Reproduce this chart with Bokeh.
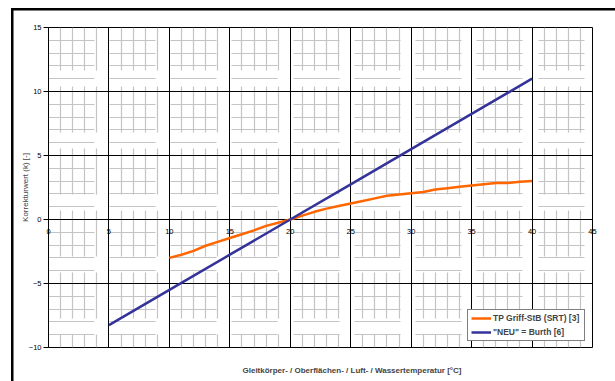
from bokeh.plotting import figure
from bokeh.models import Range1d, Legend, LegendItem, Title, FixedTicker
from bokeh.embed import file_html
from bokeh.resources import INLINE

# Correction value k over temperature for two methods
temp_srt = [10, 11, 12, 13, 14, 15, 16, 17, 18, 19, 20, 21, 22, 23, 24, 25,
            26, 27, 28, 29, 30, 31, 32, 33, 34, 35, 36, 37, 38, 39, 40]
k_srt = [-3.0, -2.75, -2.45, -2.05, -1.75, -1.45, -1.15, -0.85, -0.5, -0.25,
         0.0, 0.3, 0.6, 0.85, 1.05, 1.25, 1.45, 1.65, 1.85, 1.95, 2.05, 2.15,
         2.35, 2.45, 2.55, 2.65, 2.75, 2.85, 2.85, 2.95, 3.0]

temp_neu = [5, 10, 15, 20, 25, 30, 35, 40]
k_neu = [-8.25, -5.5, -2.75, 0.0, 2.75, 5.5, 8.25, 11.0]

x_ticks = [0, 5, 10, 15, 20, 25, 30, 35, 40, 45]
y_ticks = [-10, -5, 0, 5, 10, 15]
x_minor = [v for v in range(0, 46) if v % 5]
y_minor = [v for v in range(-10, 16) if v % 5]

series_names = ["TP Griff-StB (SRT) [3]", "\"NEU\" = Burth [6]"]
x_title = "Gleitkörper- / Oberflächen- / Luft- / Wassertemperatur [°C]"
y_title = "Korrekturwert (k) [-]"

FONT = "Liberation Sans"

p = figure(width=615, height=381, output_backend="svg", toolbar_location=None,
           x_range=Range1d(0, 45), y_range=Range1d(-10, 15),
           min_border_left=48, min_border_right=23, min_border_top=27,
           min_border_bottom=33, background_fill_color="white",
           border_fill_alpha=0)

# page frame along the left and top edges, drawn behind the transparent border
p.styles = {
    "background-color": "white",
    "background-image": "linear-gradient(#000, #000), linear-gradient(#000, #000)",
    "background-size": "2.5px 400px, 700px 2.5px",
    "background-position": "11px 8.3px, 11px 8.3px",
    "background-repeat": "no-repeat",
}

p.outline_line_color = "black"
p.outline_line_width = 1

# grid: solid major lines every 5, dashed light minor lines every 1
p.xaxis.ticker = FixedTicker(ticks=x_ticks, minor_ticks=x_minor)
p.yaxis.ticker = FixedTicker(ticks=y_ticks, minor_ticks=y_minor)
for g in (p.xgrid, p.ygrid):
    g.grid_line_color = "black"
    g.grid_line_width = 1
    g.minor_grid_line_color = "#c4c4c4"
    g.minor_grid_line_width = 1.2
p.xgrid.minor_grid_line_dash = "46 16"
p.xgrid.minor_grid_line_dash_offset = 33
p.ygrid.minor_grid_line_dash = "46 15 46 15 46 15 46 16"

# x tick labels are lifted from the bottom edge up to the k = 0 line
xa = p.xaxis[0]
xa.axis_line_color = None
xa.major_tick_out = 0
xa.major_tick_in = 0
xa.minor_tick_line_color = None
xa.major_label_standoff = -123
xa.major_label_text_font = FONT
xa.major_label_text_font_size = "7.5px"
xa.major_label_text_color = "black"

ya = p.yaxis[0]
ya.axis_line_color = "black"
ya.major_tick_out = 5
ya.major_tick_in = 0
ya.minor_tick_line_color = None
ya.major_label_standoff = 2
ya.major_label_text_font = FONT
ya.major_label_text_font_size = "7.5px"
ya.major_label_text_color = "black"
ya.axis_label = y_title
ya.axis_label_text_font = FONT
ya.axis_label_text_font_size = "8px"
ya.axis_label_text_font_style = "normal"
ya.axis_label_standoff = -4

# x axis title; the empty first line pushes it down in the bottom margin
p.add_layout(Title(text="\n" + x_title, align="left", offset=194,
                   text_font=FONT, text_font_size="8px",
                   text_font_style="bold", standoff=14), "below")

r_srt = p.line(temp_srt, k_srt, line_color="#ff6600", line_width=2.5)
r_neu = p.line(temp_neu, k_neu, line_color="#333399", line_width=2.5)

legend = Legend(items=[LegendItem(label=series_names[0], renderers=[r_srt]),
                       LegendItem(label=series_names[1], renderers=[r_neu])],
                location=(419, 6), padding=3, spacing=4, margin=0,
                glyph_width=20, glyph_height=10, label_height=10,
                label_standoff=2, label_width=88,
                label_text_font=FONT, label_text_font_size="8.5px",
                label_text_font_style="bold",
                border_line_color="black", border_line_width=1.2,
                background_fill_color="white", background_fill_alpha=1)
p.add_layout(legend, "center")

open("out.html", "w").write(file_html(p, INLINE))
